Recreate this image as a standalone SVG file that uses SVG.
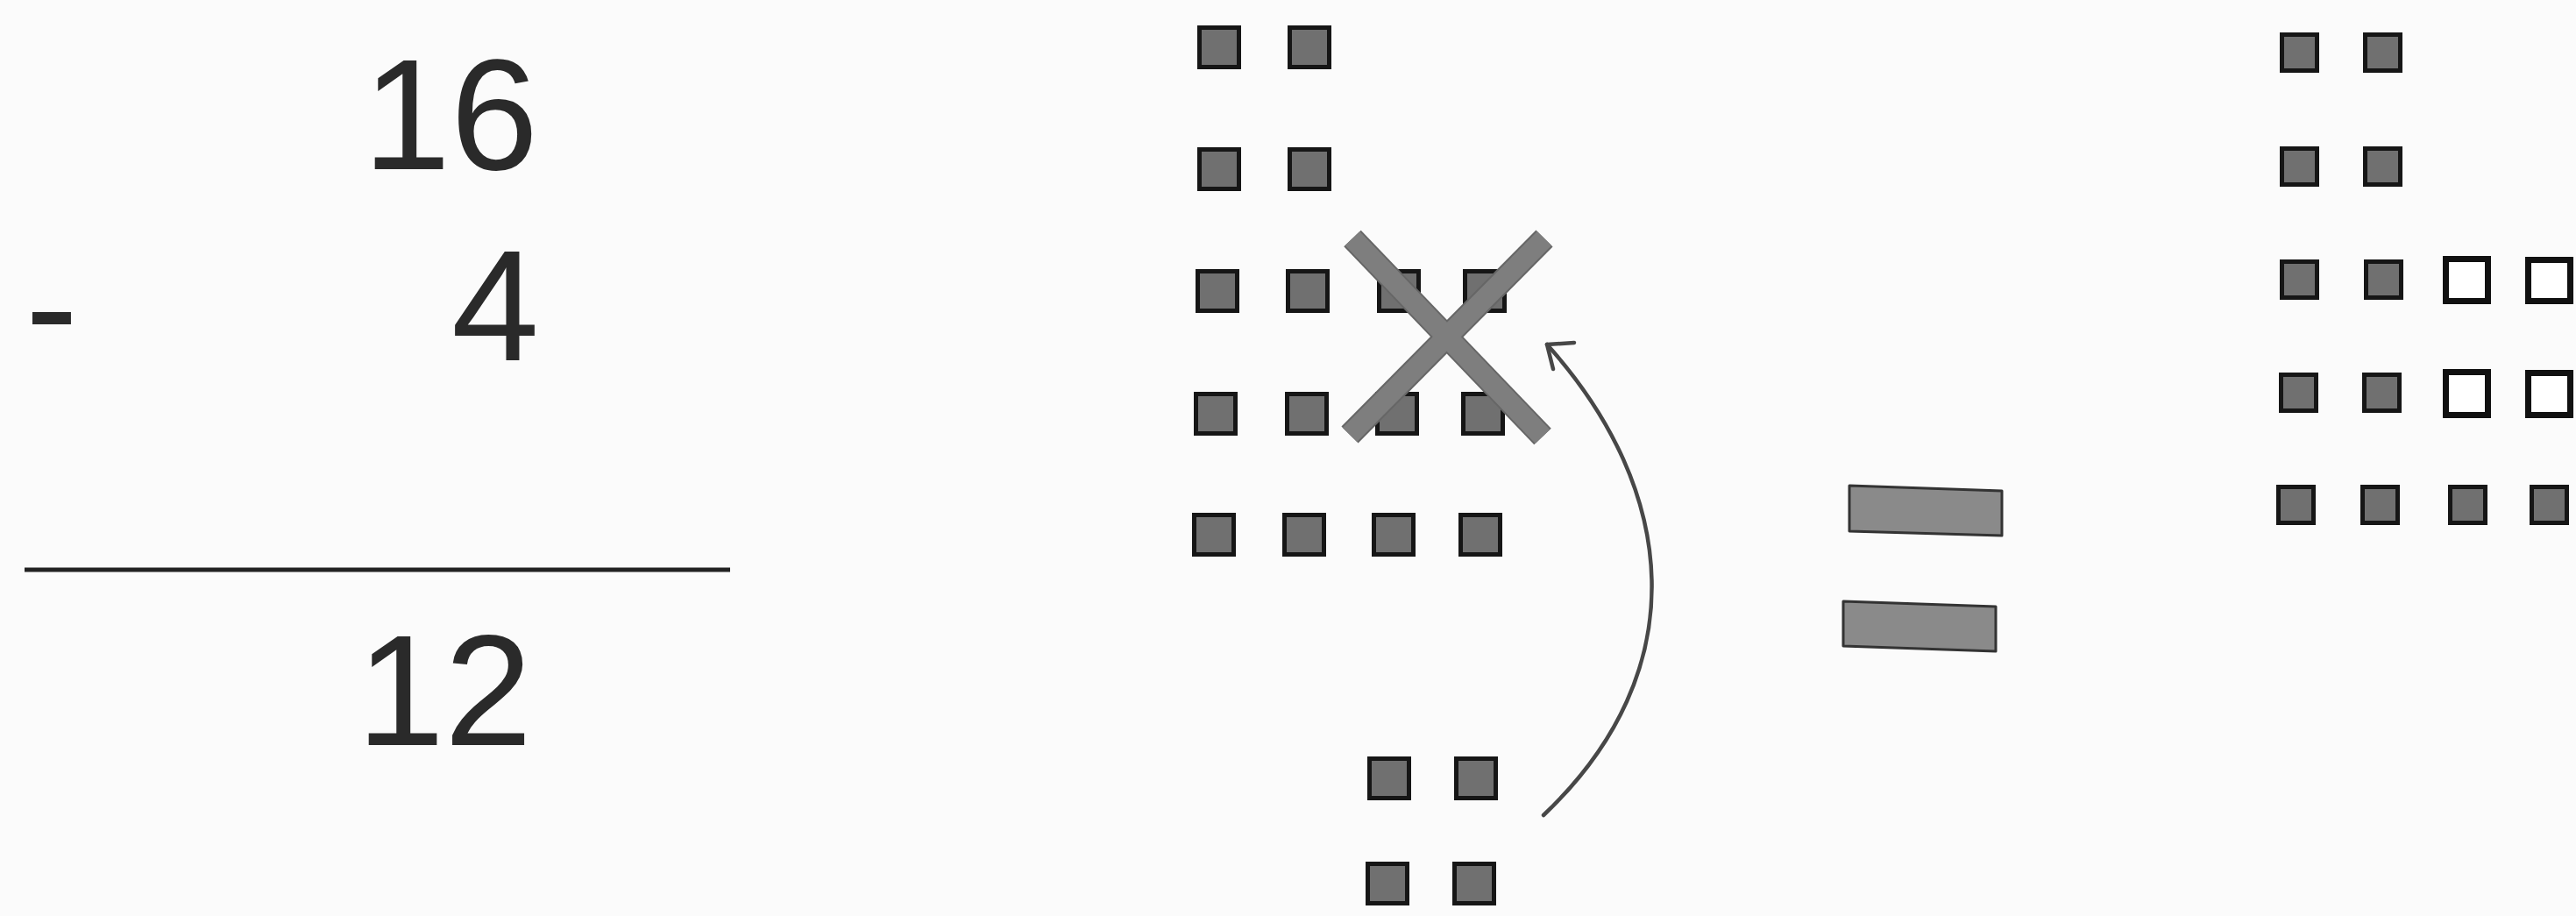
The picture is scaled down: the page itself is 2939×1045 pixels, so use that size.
<svg xmlns="http://www.w3.org/2000/svg" width="2939" height="1045" viewBox="0 0 2939 1045">
  <defs>
    <style>
      .num { font-family: "Liberation Sans", Arial, sans-serif; font-size: 180px; fill: #2a2a2a; }
      .sq { fill: #707070; stroke: #161616; stroke-width: 5; }
      .sqr { fill: #707070; stroke: #161616; stroke-width: 5; }
      .emp { fill: #ffffff; stroke: #111; stroke-width: 7; }
      .bar { fill: #8a8a8a; stroke: #333; stroke-width: 3; stroke-linejoin: round; }
      .xl { stroke: #666; stroke-width: 27; stroke-linecap: butt; }
      .xi { stroke: #7e7e7e; stroke-width: 23; stroke-linecap: butt; }
      .arc { fill: none; stroke: #474747; stroke-width: 4.5; stroke-linecap: round; stroke-linejoin: round; }
    </style>
  </defs>
  <rect x="0" y="0" width="2939" height="1045" fill="#fbfbfb"/>

  <g id="equation">
    <text class="num" x="414" y="193">16</text>
    <text class="num" x="29" y="411">-</text>
    <text class="num" x="515" y="411">4</text>
    <line x1="28" y1="650" x2="833" y2="650" stroke="#222" stroke-width="5"/>
    <text class="num" x="407" y="850">12</text>
  </g>

  <g id="left-grid">
    <rect class="sq" x="1368.5" y="31.5" width="45" height="45"/>
    <rect class="sq" x="1471.5" y="31.5" width="45" height="45"/>
    <rect class="sq" x="1368.5" y="170.5" width="45" height="45"/>
    <rect class="sq" x="1471.5" y="170.5" width="45" height="45"/>
    <rect class="sq" x="1366.5" y="309.5" width="45" height="45"/>
    <rect class="sq" x="1469.5" y="309.5" width="45" height="45"/>
    <rect class="sq" x="1573.5" y="309.5" width="45" height="45"/>
    <rect class="sq" x="1671.5" y="309.5" width="45" height="45"/>
    <rect class="sq" x="1364.5" y="449.5" width="45" height="45"/>
    <rect class="sq" x="1468.5" y="449.5" width="45" height="45"/>
    <rect class="sq" x="1571.5" y="449.5" width="45" height="45"/>
    <rect class="sq" x="1669.5" y="449.5" width="45" height="45"/>
    <rect class="sq" x="1362.5" y="587.5" width="45" height="45"/>
    <rect class="sq" x="1465.5" y="587.5" width="45" height="45"/>
    <rect class="sq" x="1567.5" y="587.5" width="45" height="45"/>
    <rect class="sq" x="1666.5" y="587.5" width="45" height="45"/>
  </g>

  <g id="cross-out">
    <line class="xl" x1="1543" y1="272" x2="1760" y2="498"/>
    <line class="xl" x1="1762" y1="272" x2="1540" y2="496"/>
    <line class="xi" x1="1543" y1="272" x2="1760" y2="498"/>
    <line class="xi" x1="1762" y1="272" x2="1540" y2="496"/>
  </g>

  <g id="bottom-grid">
    <rect class="sq" x="1562.5" y="865.5" width="45" height="45"/>
    <rect class="sq" x="1661.5" y="865.5" width="45" height="45"/>
    <rect class="sq" x="1560.5" y="985.5" width="45" height="45"/>
    <rect class="sq" x="1659.5" y="985.5" width="45" height="45"/>
  </g>

  <g id="connectors">
    <path class="arc" d="M1761,930 C1935,765 1915,560 1765,393"/>
    <path class="arc" d="M1796,391 L1765,393 L1772,421"/>
  </g>

  <g id="equals">
    <polygon class="bar" points="2110,554 2284,560 2284,611 2110,606"/>
    <polygon class="bar" points="2103,686 2277,692 2277,743 2103,737"/>
  </g>

  <g id="right-grid">
    <rect class="sqr" x="2603.5" y="39.5" width="40" height="41"/>
    <rect class="sqr" x="2698.5" y="39.5" width="40" height="41"/>
    <rect class="sqr" x="2603.5" y="169.5" width="40" height="41"/>
    <rect class="sqr" x="2698.5" y="169.5" width="40" height="41"/>
    <rect class="sqr" x="2603.5" y="298.5" width="40" height="41"/>
    <rect class="sqr" x="2699.5" y="298.5" width="40" height="41"/>
    <rect class="emp" x="2790.5" y="295.5" width="48" height="48"/>
    <rect class="emp" x="2884.5" y="296.5" width="48" height="47"/>
    <rect class="sqr" x="2602.5" y="427.5" width="40" height="41"/>
    <rect class="sqr" x="2697.5" y="427.5" width="40" height="41"/>
    <rect class="emp" x="2790.5" y="424.5" width="48" height="49"/>
    <rect class="emp" x="2884.5" y="425.5" width="48" height="48"/>
    <rect class="sqr" x="2599.5" y="555.5" width="40" height="41"/>
    <rect class="sqr" x="2695.5" y="555.5" width="40" height="41"/>
    <rect class="sqr" x="2795.5" y="555.5" width="40" height="41"/>
    <rect class="sqr" x="2888.5" y="555.5" width="40" height="41"/>
  </g>
</svg>
